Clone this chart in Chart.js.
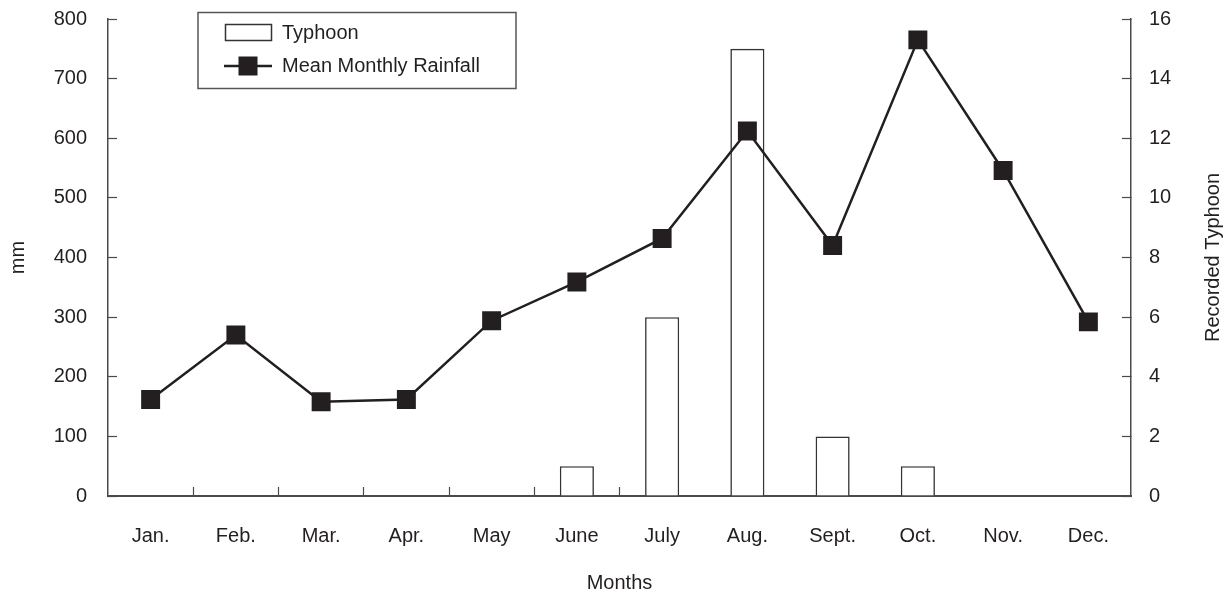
<!DOCTYPE html>
<html>
<head>
<meta charset="utf-8">
<script src="https://cdn.jsdelivr.net/npm/chart.js@4/dist/chart.umd.min.js"></script>
<style>
  html, body { margin: 0; padding: 0; background: #fff; }
  #wrap { width: 1231px; height: 593px; }
</style>
</head>
<body>
<div id="wrap"><canvas id="chart" width="1231" height="593"></canvas></div>
<script>
/* Typhoon counts (bars, right axis) + mean monthly rainfall (line, left axis) */

const months = ['Jan.', 'Feb.', 'Mar.', 'Apr.', 'May', 'June', 'July', 'Aug.', 'Sept.', 'Oct.', 'Nov.', 'Dec.'];
const rainfall = [162, 270, 158, 162, 294, 359, 432, 612, 420, 765, 546, 292];
const typhoons = [0, 0, 0, 0, 0, 1, 6, 15, 2, 1, 0, 0];
const rainTicks = [0, 100, 200, 300, 400, 500, 600, 700, 800];
const typhoonTicks = [0, 2, 4, 6, 8, 10, 12, 14, 16];

const INK = '#231f20';
const AXIS = '#4a4a4a';
const FONT = { family: 'Arial, "Liberation Sans", Helvetica, sans-serif', size: 20 };

/* legend box sitting inside the plot, top-left */
const boxLegend = {
  id: 'boxLegend',
  afterDraw(chart) {
    const ctx = chart.ctx;
    const ds = chart.data.datasets;
    const x0 = 198, y0 = 12.5, w = 318, h = 76;
    ctx.save();
    ctx.fillStyle = '#fff';
    ctx.fillRect(x0, y0, w, h);
    ctx.strokeStyle = '#555';
    ctx.lineWidth = 1.5;
    ctx.strokeRect(x0, y0, w, h);

    // bar swatch
    ctx.strokeStyle = '#333';
    ctx.lineWidth = 1.5;
    ctx.strokeRect(225.5, 24.5, 46, 16);

    // line swatch
    ctx.strokeStyle = INK;
    ctx.lineWidth = 2.5;
    ctx.beginPath();
    ctx.moveTo(224, 66);
    ctx.lineTo(272, 66);
    ctx.stroke();
    ctx.fillStyle = INK;
    ctx.fillRect(238.5, 56.5, 19, 19);

    ctx.fillStyle = INK;
    ctx.font = FONT.size + 'px ' + FONT.family;
    ctx.textBaseline = 'middle';
    ctx.textAlign = 'left';
    ctx.fillText(ds[1].label, 282, 33);
    ctx.fillText(ds[0].label, 282, 66);
    ctx.restore();
  }
};

/* right axis title reads bottom-to-top like the left one */
const rightTitle = {
  id: 'rightTitle',
  afterDraw(chart) {
    const s = chart.scales.y1;
    const area = chart.chartArea;
    const ctx = chart.ctx;
    ctx.save();
    ctx.translate(s.right - 18, (area.top + area.bottom) / 2);
    ctx.rotate(-Math.PI / 2);
    ctx.fillStyle = INK;
    ctx.font = FONT.size + 'px ' + FONT.family;
    ctx.textAlign = 'center';
    ctx.textBaseline = 'middle';
    ctx.fillText('Recorded Typhoon', 0, 0);
    ctx.restore();
  }
};

new Chart(document.getElementById('chart'), {
  data: {
    labels: months,
    datasets: [
      {
        type: 'line',
        label: 'Mean Monthly Rainfall',
        data: rainfall,
        yAxisID: 'y',
        borderColor: INK,
        borderWidth: 2.5,
        pointStyle: 'rect',
        pointRadius: 13.4,
        pointBackgroundColor: INK,
        pointBorderColor: INK,
        pointBorderWidth: 0,
        tension: 0,
        order: 0,
      },
      {
        type: 'bar',
        label: 'Typhoon',
        data: typhoons,
        yAxisID: 'y1',
        backgroundColor: '#fff',
        borderColor: '#333',
        borderWidth: 1.6,
        categoryPercentage: 1,
        barPercentage: 0.4,
        order: 1,
      },
    ],
  },
  options: {
    responsive: false,
    animation: false,
    events: [],
    layout: { padding: { top: 19, left: 0, right: 0, bottom: 0 } },
    plugins: {
      legend: { display: false },
      tooltip: { enabled: false },
    },
    scales: {
      x: {
        offset: true,
        grid: {
          offset: true,
          drawOnChartArea: false,
          tickLength: -9,
          tickColor: c => (c.index >= 1 && c.index <= 6 ? AXIS : 'rgba(0,0,0,0)'),
          tickWidth: 1.2,
        },
        border: { color: AXIS, width: 2 },
        ticks: { color: INK, font: FONT, padding: 37, maxRotation: 0 },
        title: { display: true, text: 'Months', color: INK, font: { ...FONT, lineHeight: 1 }, padding: 0 },
        afterFit(s) { s.height = 97; s.paddingLeft = 0; s.paddingRight = 0; },
      },
      y: {
        position: 'left',
        min: 0,
        max: 800,
        afterBuildTicks(s) { s.ticks = rainTicks.map(v => ({ value: v })); },
        grid: { drawOnChartArea: false, tickLength: -9, tickColor: AXIS, tickWidth: 1.2 },
        border: { color: AXIS, width: 1.5 },
        ticks: { color: INK, font: FONT, padding: 30 },
        title: { display: true, text: 'mm', color: INK, font: FONT, padding: { top: 6, bottom: 6 } },
        afterFit(s) { s.width = 108; s.paddingTop = 0; s.paddingBottom = 0; },
      },
      y1: {
        position: 'right',
        min: 0,
        max: 16,
        afterBuildTicks(s) { s.ticks = typhoonTicks.map(v => ({ value: v })); },
        grid: { drawOnChartArea: false, tickLength: -9, tickColor: AXIS, tickWidth: 1.2 },
        border: { color: AXIS, width: 1.5 },
        ticks: { color: INK, font: FONT, padding: 27 },
        afterFit(s) { s.width = 100; s.paddingTop = 0; s.paddingBottom = 0; },
      },
    },
  },
  plugins: [boxLegend, rightTitle],
});
</script>
</body>
</html>
